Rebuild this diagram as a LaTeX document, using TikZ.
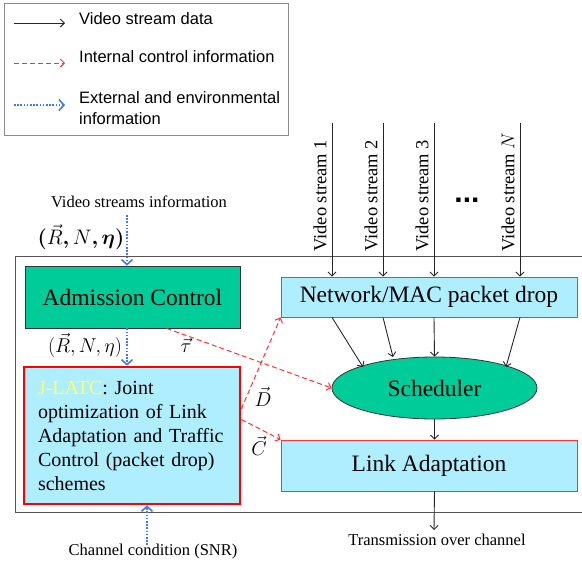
\RequirePackage{fix-cm}
\documentclass[tikz,border=0pt]{standalone}
\usepackage{amsmath}
\usepackage{fontspec}
\setmainfont{Liberation Serif}
\newfontfamily\legendfont{Liberation Sans}
\usetikzlibrary{arrows.meta,shapes.geometric,calc}
\definecolor{teal1}{HTML}{00CC99}
\definecolor{cyan1}{HTML}{AEEEFE}
\definecolor{red1}{HTML}{FF3333}
\definecolor{blue1}{HTML}{4477FF}
\definecolor{yel1}{HTML}{FFFF66}
\definecolor{frame1}{HTML}{555555}
\begin{document}
\begin{tikzpicture}[x=1pt,y=-1pt,
  data/.style={draw=black!85, line width=0.9pt, -{Straight Barb[length=4pt,width=8pt]}},
  ctrl/.style={draw=red1, line width=1pt, dash pattern=on 5pt off 3pt, -{Straight Barb[length=4pt,width=8pt]}},
  ext/.style={draw=blue1, line width=1.8pt, dash pattern=on 1.6pt off 1.6pt, -{Straight Barb[length=5pt,width=11pt,line width=1.6pt]}},
  cbox/.style={draw=red1, fill=cyan1, line width=0.8pt, minimum width=296pt, inner sep=0pt, font=\fontsize{23.5}{28}\selectfont},
  gbox/.style={draw=black!80, fill=teal1, line width=0.8pt, inner sep=0pt, font=\fontsize{23.5}{28}\selectfont},
  small/.style={font=\fontsize{16.5}{20}\selectfont, inner sep=0pt},
  mlab/.style={font=\fontsize{20}{24}\selectfont, inner sep=0pt},
  vlab/.style={font=\fontsize{18.5}{22}\selectfont, rotate=90, anchor=west, inner sep=0pt},
  leg/.style={font=\legendfont\fontsize{16.5}{21}\selectfont, anchor=west, inner sep=0pt, align=left},
]
\useasboundingbox (0,0) rectangle (582,565);

% legend
\draw[draw=black!45, line width=1pt] (4,3) rectangle (288,135);
\coordinate (l1a) at (14,23); \coordinate (l1b) at (65,23);
\coordinate (l2a) at (14,63); \coordinate (l2b) at (65,63);
\coordinate (l3a) at (14,105); \coordinate (l3b) at (65,105);
\draw[data] (l1a) -- (l1b);
\draw[ctrl] (l2a) -- (l2b);
\draw[ext] (l3a) -- (l3b);
\node[leg] (lt1) at (79,19) {Video stream data};
\node[leg] (lt2) at (79,57) {Internal control information};
\node[leg] (lt3) at (79,108) {External and environmental\\information};

% main frame (open on the right)
\draw[draw=frame1, line width=1pt] (583,256) -- (15,256) -- (15,512) -- (583,512);

% boxes
\node[gbox, minimum width=215pt, minimum height=62pt] (adm) at (132.5,297) {Admission Control};
\node[draw=red, line width=2.6pt, fill=cyan1, minimum width=216pt, minimum height=137pt,
      text width=188pt, inner xsep=14pt, inner ysep=0pt, align=left,
      font=\fontsize{20}{24}\selectfont] (jlatc) at (132,435.5)
  {\textcolor{yel1}{J-LATC}: Joint\\optimization of Link\\Adaptation and Traffic\\Control (packet drop)\\schemes};
\node[cbox, minimum height=40pt] (net) at (429,297) {Network/MAC packet drop};
\node[gbox, ellipse, minimum width=205pt, minimum height=62pt] (sched) at (434.5,388) {Scheduler};
\node[cbox, minimum height=51pt] (link) at (429,465.5) {Link Adaptation};

% video streams
\foreach \i/\x/\t in {1/332/1, 2/383/2, 3/434/3, 4/520/$N$} {
  \coordinate (vs\i) at (\x,123);
  \draw[data] (vs\i) -- (vs\i |- net.north);
  \node[vlab] (vl\i) at (\x-12,252) {Video stream \t};
}
\node[font=\legendfont\bfseries\fontsize{30}{30}\selectfont, inner sep=0pt] (dots) at (467,200) {...};

% net -> scheduler
\draw[data] (vs1 |- net.south) -- (363,367);
\draw[data] (vs2 |- net.south) -- (393,357);
\draw[data] (vs3 |- net.south) -- (sched.north);
\draw[data] (vs4 |- net.south) -- (506,367);
\draw[data] (sched.south) -- (sched.south |- link.north);
\coordinate (out) at (434,530);
\draw[data] (sched.south |- link.south) -- (out);
\node[small] (outl) at (437,540) {Transmission over channel};

% external inputs
\node[small] (vsi) at (139,202) {Video streams information};
\coordinate (vsin) at (127,215);
\draw[ext] (vsin) -- (vsin |- adm.north);
\node[mlab, font=\fontsize{21}{24}\selectfont] (rnb) at (81,237) {$\boldsymbol{(}\vec{R}\mathpunct{\boldsymbol{,}}N\mathpunct{\boldsymbol{,}}\boldsymbol{\eta}\boldsymbol{)}$};
\draw[ext] (vsin |- adm.south) -- (vsin |- jlatc.north);
\node[mlab] (rn) at (85,345) {$(\vec{R},N,\eta)$};
\coordinate (snr) at (147,545);
\draw[ext] (snr) -- (snr |- jlatc.south);
\node[small] (snrl) at (153,552) {Channel condition (SNR)};

% internal control
\coordinate (tauS) at ($(adm.south west)!0.658!(adm.south east)$);
\draw[ctrl] (tauS) -- (sched.west);
\node[mlab] (tau) at (186,345) {$\vec{\tau}$};
\coordinate (dS) at ($(jlatc.north east)!0.31!(jlatc.south east)$);
\coordinate (cS) at ($(jlatc.north east)!0.385!(jlatc.south east)$);
\draw[ctrl] (dS) -- (net.south west);
\draw[ctrl] (cS) -- (link.north west);
\node[mlab] (dl) at (263,397) {$\vec{D}$};
\node[mlab] (cl) at (259,446) {$\vec{C}$};
\end{tikzpicture}
\end{document}
